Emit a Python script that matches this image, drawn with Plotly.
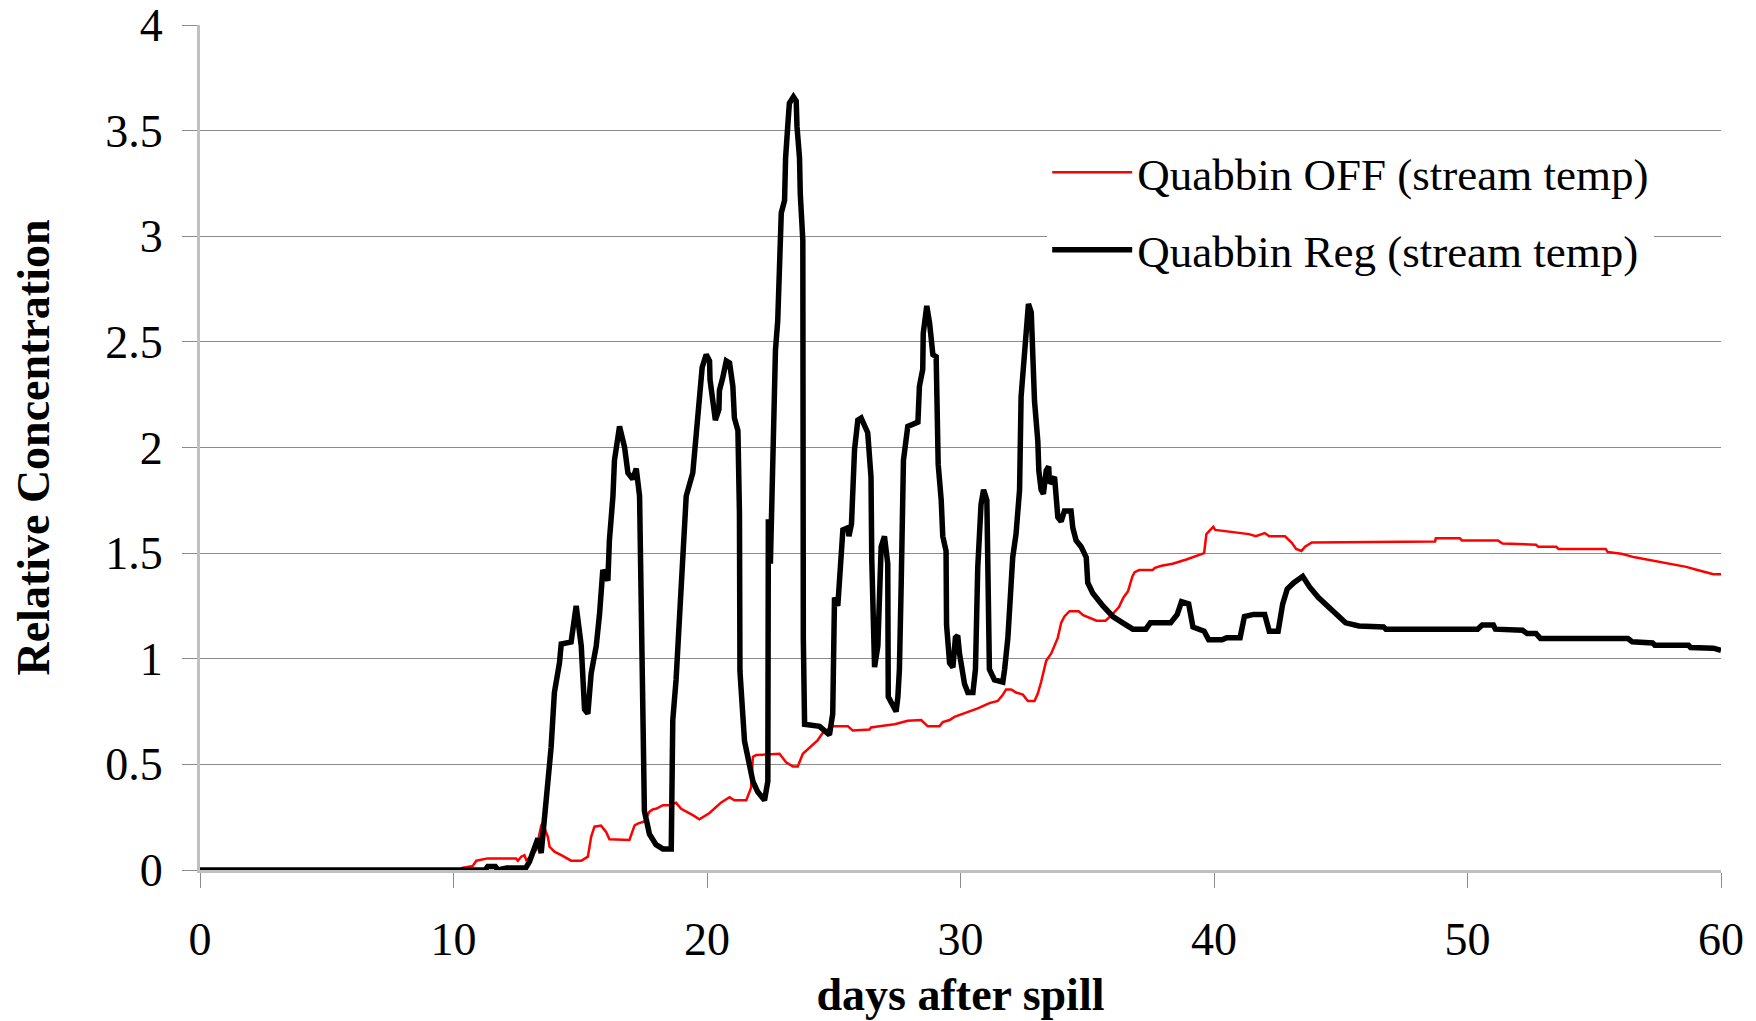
import plotly.graph_objects as go

# ---- data ----
off_days = [0, 10.3, 10.35, 10.76, 10.9, 11.35, 12.47, 12.54, 12.67, 12.8, 12.87, 13.06, 13.26, 13.39,
            13.46, 13.52, 13.72, 13.79, 13.98, 14.25, 14.51, 14.64, 15.04, 15.3, 15.43, 15.56, 15.82,
            16.02, 16.15, 16.94, 17.14, 17.27, 17.53, 17.73, 17.86, 17.99, 18.26, 18.52, 18.78, 18.98,
            19.44, 19.7, 20.1, 20.56, 20.89, 21.08, 21.55, 21.74, 21.81, 21.94, 22.86, 23.12, 23.39,
            23.58, 23.78, 24.04, 24.37, 24.57, 24.96, 25.56, 25.75, 26.41, 26.47, 26.8, 27.4, 27.92,
            28.45, 28.71, 29.17, 29.3, 29.57, 29.76, 30.22, 30.68, 31.14, 31.47, 31.67, 31.8, 32.0,
            32.19, 32.46, 32.66, 32.92, 33.05, 33.18, 33.25, 33.38, 33.58, 33.71, 33.84, 33.97, 34.1,
            34.3, 34.66, 34.84, 35.19, 35.37, 35.72, 35.99, 36.25, 36.43, 36.61, 36.78, 36.87, 37.05,
            37.58, 37.67, 37.93, 38.37, 38.91, 39.17, 39.44, 39.61, 39.7, 39.97, 40.05, 40.76, 41.38,
            41.65, 42.0, 42.18, 42.8, 43.06, 43.24, 43.45, 43.59, 43.86, 48.72, 48.75, 49.7, 49.78,
            51.2, 51.38, 52.7, 52.79, 53.5, 53.59, 55.45, 55.53, 56.07, 56.6, 57.3, 57.92, 58.63,
            59.07, 59.7, 60]
off_vals = [0, 0, 0.01, 0.019, 0.044, 0.055, 0.055, 0.044, 0.063, 0.07, 0.047, 0.063, 0.095, 0.17,
            0.21, 0.22, 0.157, 0.11, 0.087, 0.07, 0.055, 0.044, 0.044, 0.063, 0.157, 0.205, 0.21,
            0.18, 0.145, 0.142, 0.21, 0.22, 0.23, 0.276, 0.287, 0.29, 0.307, 0.307, 0.318, 0.29,
            0.26, 0.24, 0.27, 0.32, 0.345, 0.33, 0.33, 0.39, 0.536, 0.544, 0.55, 0.51, 0.49,
            0.49, 0.55, 0.58, 0.615, 0.65, 0.68, 0.68, 0.66, 0.665, 0.675, 0.68, 0.69, 0.706,
            0.71, 0.68, 0.68, 0.70, 0.71, 0.725, 0.745, 0.765, 0.79, 0.80, 0.83, 0.855, 0.855,
            0.84, 0.83, 0.80, 0.80, 0.835, 0.89, 0.93, 0.99, 1.025, 1.06, 1.10, 1.17, 1.20,
            1.225, 1.225, 1.206, 1.19, 1.18, 1.18, 1.21, 1.245, 1.29, 1.32, 1.39, 1.41, 1.42,
            1.42, 1.43, 1.44, 1.45, 1.47, 1.48, 1.49, 1.50, 1.59, 1.625, 1.61, 1.60, 1.59,
            1.58, 1.595, 1.58, 1.58, 1.55, 1.52, 1.51, 1.53, 1.55, 1.555, 1.57, 1.57, 1.56,
            1.56, 1.545, 1.54, 1.53, 1.53, 1.52, 1.52, 1.505, 1.497, 1.48, 1.465, 1.45, 1.435,
            1.42, 1.40, 1.40]

reg_days = [0, 11.25, 11.35, 11.65, 11.75, 12.1, 12.6, 12.85, 13.0, 13.19, 13.33, 13.46, 13.52, 13.59,
            13.72, 13.85, 13.98, 14.18, 14.25, 14.64, 14.84, 15.04, 15.17, 15.3, 15.43, 15.63, 15.76,
            15.89, 16.09, 16.15, 16.29, 16.35, 16.55, 16.75, 16.88, 17.07, 17.21, 17.34, 17.53, 17.73,
            17.99, 18.26, 18.59, 18.65, 18.78, 18.98, 19.11, 19.18, 19.44, 19.57, 19.7, 19.81, 19.97,
            20.1, 20.12, 20.23, 20.33, 20.47, 20.49, 20.62, 20.76, 20.89, 21.02, 21.08, 21.22, 21.28,
            21.3, 21.48, 21.81, 22.0, 22.27, 22.4, 22.42, 22.5, 22.6, 22.7, 22.79, 22.86, 22.93,
            23.06, 23.1, 23.19, 23.25, 23.41, 23.52, 23.55, 23.65, 23.68, 23.78, 23.8, 23.85, 24.44,
            24.83, 24.96, 25.03, 25.16, 25.36, 25.56, 25.6, 25.7, 25.82, 25.95, 26.08, 26.34, 26.41,
            26.47, 26.5, 26.61, 26.74, 26.87, 27.0, 27.13, 27.15, 27.26, 27.46, 27.53, 27.59, 27.66,
            27.72, 27.75, 27.92, 28.32, 28.38, 28.51, 28.53, 28.67, 28.78, 28.91, 29.04, 29.1, 29.12,
            29.24, 29.3, 29.43, 29.45, 29.57, 29.7, 29.8, 29.89, 29.96, 30.09, 30.16, 30.29, 30.49,
            30.59, 30.68, 30.81, 30.91, 31.04, 31.08, 31.14, 31.34, 31.67, 31.74, 31.87, 32.0, 32.06,
            32.19, 32.33, 32.39, 32.52, 32.59, 32.68, 32.79, 32.85, 32.92, 33.05, 33.09, 33.18, 33.27,
            33.38, 33.48, 33.51, 33.71, 33.84, 33.97, 34.1, 34.36, 34.43, 34.56, 34.76, 34.96, 35.02,
            35.22, 35.62, 36.01, 36.4, 36.8, 37.31, 37.49, 38.29, 38.55, 38.72, 39.0, 39.17, 39.61,
            39.79, 40.32, 40.5, 41.03, 41.2, 41.56, 42.0, 42.18, 42.53, 42.71, 42.89, 43.15, 43.5,
            43.77, 44.12, 44.48, 44.83, 45.19, 45.72, 46.69, 46.78, 50.4, 50.58, 51.02, 51.1, 52.17,
            52.35, 52.7, 52.88, 56.33, 56.5, 57.3, 57.39, 58.72, 58.8, 59.7, 60]
reg_vals = [0, 0, 0.017, 0.017, 0, 0.01, 0.01, 0.01, 0.04, 0.11, 0.15, 0.08, 0.16, 0.27,
            0.38, 0.58, 0.84, 0.98, 1.07, 1.08, 1.25, 1.06, 0.76, 0.74, 0.93, 1.06, 1.21,
            1.42, 1.37, 1.56, 1.77, 1.94, 2.10, 2.0, 1.88, 1.85, 1.90, 1.77, 0.28, 0.17,
            0.12, 0.10, 0.10, 0.71, 0.90, 1.40, 1.59, 1.77, 1.88, 2.07, 2.26, 2.38, 2.44,
            2.41, 2.32, 2.19, 2.13, 2.18, 2.27, 2.33, 2.41, 2.40, 2.29, 2.14, 2.08, 1.69,
            0.94, 0.61, 0.42, 0.37, 0.33, 0.42, 1.66, 1.45, 2.02, 2.46, 2.60, 2.88, 3.11,
            3.17, 3.37, 3.53, 3.63, 3.66, 3.64, 3.52, 3.37, 3.20, 2.98, 1.09, 0.69, 0.68,
            0.64, 0.74, 1.29, 1.25, 1.61, 1.62, 1.58, 1.64, 1.99, 2.13, 2.14, 2.07, 1.91,
            1.86, 1.47, 0.96, 1.06, 1.53, 1.58, 1.45, 0.82, 0.79, 0.75, 0.82, 0.95, 1.35,
            1.83, 1.94, 2.10, 2.12, 2.29, 2.37, 2.54, 2.67, 2.59, 2.44, 2.43, 2.13, 1.92,
            1.75, 1.58, 1.51, 1.16, 0.98, 0.96, 1.10, 1.11, 1.025, 0.95, 0.88, 0.84, 0.84,
            0.95, 1.43, 1.73, 1.80, 1.75, 1.36, 0.95, 0.90, 0.89, 0.95, 1.10, 1.36, 1.48,
            1.59, 1.80, 2.24, 2.46, 2.57, 2.68, 2.64, 2.46, 2.22, 2.03, 1.89, 1.80, 1.78,
            1.89, 1.91, 1.83, 1.86, 1.67, 1.65, 1.70, 1.70, 1.62, 1.56, 1.53, 1.48, 1.36,
            1.31, 1.25, 1.20, 1.17, 1.14, 1.14, 1.17, 1.17, 1.21, 1.27, 1.26, 1.15, 1.13,
            1.09, 1.09, 1.10, 1.10, 1.20, 1.21, 1.21, 1.13, 1.13, 1.26, 1.33, 1.36, 1.39,
            1.34, 1.29, 1.25, 1.21, 1.17, 1.155, 1.15, 1.14, 1.14, 1.16, 1.16, 1.14, 1.135,
            1.12, 1.12, 1.096, 1.096, 1.08, 1.075, 1.064, 1.064, 1.053, 1.05, 1.04]

series_names = ["Quabbin OFF (stream temp)", "Quabbin Reg (stream temp)"]
x_title = "days after spill"
y_title = "Relative Concentration"

FONT = "Liberation Serif, Times New Roman, serif"

fig = go.Figure()
fig.add_trace(go.Scatter(x=off_days, y=off_vals, mode="lines", name=series_names[0],
                         legendgroup="a", line=dict(color="#ff0000", width=2.5)))
fig.add_trace(go.Scatter(x=reg_days, y=reg_vals, mode="lines", name=series_names[1],
                         legendgroup="b", line=dict(color="#000000", width=5.5)))

fig.update_layout(
    width=1756, height=1021, autosize=False,
    margin=dict(l=200, r=35, t=25, b=151),
    paper_bgcolor="white", plot_bgcolor="white",
    font=dict(family=FONT, size=45, color="black"),
    showlegend=True,
    legend=dict(x=0.557, y=0.868, xanchor="left", yanchor="top",
                bgcolor="white", borderwidth=0, traceorder="grouped",
                tracegroupgap=16, itemwidth=80,
                font=dict(family=FONT, size=45, color="black")),
    xaxis=dict(range=[0, 60], dtick=10, tick0=0, showgrid=False, zeroline=False,
               automargin=False,
               showline=True, linecolor="#c0c0c0", linewidth=3,
               ticks="outside", ticklen=15, tickwidth=1, tickcolor="#8c8c8c",
               tickfont=dict(family=FONT, size=46), ticklabelstandoff=12,
               title=dict(text="<b>" + x_title + "</b>", standoff=14,
                          font=dict(family=FONT, size=46))),
    yaxis=dict(range=[0, 4], dtick=0.5, tick0=0, showgrid=True, gridcolor="#8c8c8c",
               automargin=False,
               gridwidth=1, zeroline=False, showline=True, linecolor="#c0c0c0",
               linewidth=3, ticks="outside", ticklen=15, tickwidth=1, tickcolor="#8c8c8c",
               tickfont=dict(family=FONT, size=46), ticklabelstandoff=10,
               title=dict(text="<b>" + y_title + "</b>", standoff=42,
                          font=dict(family=FONT, size=46))),
)

fig.write_html("out.html")
